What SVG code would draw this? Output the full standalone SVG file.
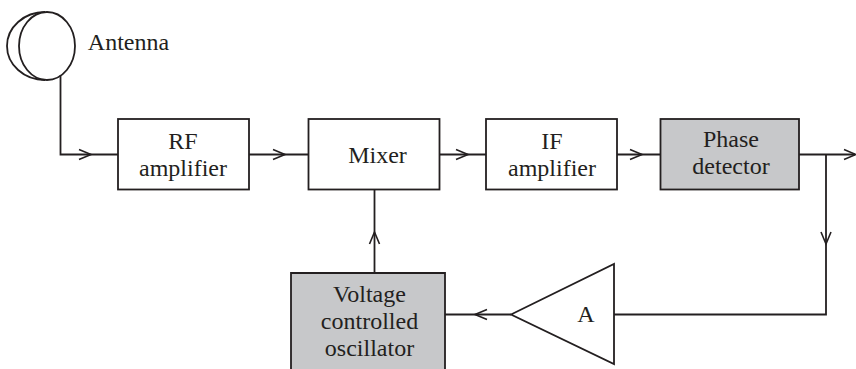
<svg xmlns="http://www.w3.org/2000/svg" width="856" height="369" viewBox="0 0 856 369">
<style>
.b{fill:#fff;stroke:#231f20;stroke-width:1.8}
.g{fill:#c7c8ca;stroke:#231f20;stroke-width:1.8}
.c{fill:none;stroke:#231f20;stroke-width:1.8}
.a{fill:none;stroke:#231f20;stroke-width:1.6}
text{font-family:"Liberation Serif",serif;font-size:24px;fill:#231f20;text-anchor:middle}
</style>
<rect width="856" height="369" fill="#fff"/>
<g id="connectors">
<path class="c" d="M60.500 75V154.500H118"/>
<path class="a" d="M79 149.500L91 154.500L79 159.500"/>
<path class="c" d="M249 154.500H308"/>
<path class="a" d="M273 149.500L285 154.500L273 159.500"/>
<path class="c" d="M439 154.500H486"/>
<path class="a" d="M456 149.500L468 154.500L456 159.500"/>
<path class="c" d="M617 154.500H660"/>
<path class="a" d="M630 149.500L642 154.500L630 159.500"/>
<path class="c" d="M799 154.500H855"/>
<path class="a" d="M844 149.500L856 154.500L844 159.500"/>
<path class="c" d="M826 154.500V314.500H614"/>
<path class="a" d="M821 232L826 244L831 232"/>
<path class="c" d="M374.500 273V190"/>
<path class="a" d="M369.500 244L374.500 232L379.500 244"/>
<path class="c" d="M511 314.500H445"/>
<path class="a" d="M487 309.500L475 314.500L487 319.500"/>
</g>
<g id="antenna">
<path class="c" d="M45 12A38 34 0 0 0 45 80"/>
<ellipse class="c" cx="47" cy="46" rx="28" ry="34"/>
<text x="128.500" y="50">Antenna</text>
</g>
<g id="rf-amplifier">
<rect class="b" x="118" y="119" width="131" height="70.500"/>
<text x="183" y="149">RF</text>
<text x="183" y="175.500">amplifier</text>
</g>
<g id="mixer">
<rect class="b" x="308.500" y="119" width="131" height="70.500"/>
<text x="377.500" y="163">Mixer</text>
</g>
<g id="if-amplifier">
<rect class="b" x="486" y="119" width="131" height="70.500"/>
<text x="552" y="149">IF</text>
<text x="552" y="176">amplifier</text>
</g>
<g id="phase-detector">
<rect class="g" x="660.500" y="119" width="138.500" height="70.500"/>
<text x="731" y="147">Phase</text>
<text x="731" y="174">detector</text>
</g>
<g id="vco">
<path class="g" d="M291 370V273H445V370"/>
<text x="369.500" y="302">Voltage</text>
<text x="369.500" y="329">controlled</text>
<text x="369.500" y="356">oscillator</text>
</g>
<g id="amplifier-a">
<path class="b" d="M511 314.500L614 264V364Z"/>
<text x="586" y="322">A</text>
</g>
</svg>
